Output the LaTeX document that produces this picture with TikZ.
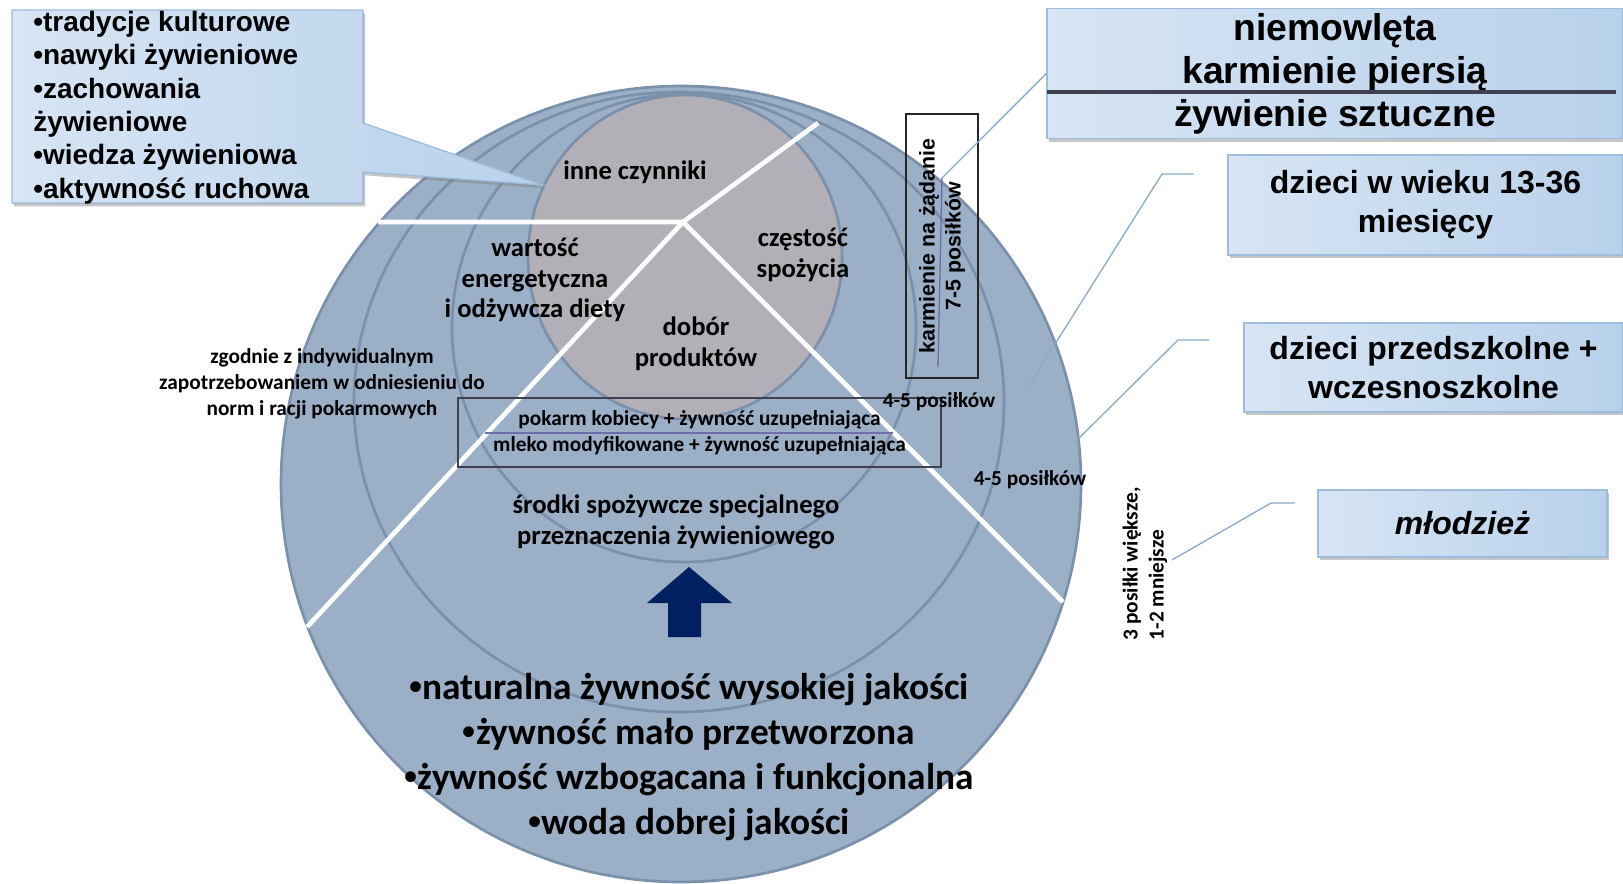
\documentclass[tikz,border=0pt]{standalone}
\usepackage{fontspec}
\setmainfont{Carlito}
\newfontfamily\arialfont{Liberation Sans}
\usetikzlibrary{shadows}

\definecolor{pierscien}{RGB}{155,175,198}
\definecolor{obwod}{RGB}{122,144,171}
\definecolor{szary}{RGB}{178,175,183}
\definecolor{jasny}{RGB}{215,229,244}
\definecolor{ciemny}{RGB}{184,209,235}
\definecolor{ramka}{RGB}{158,188,220}
\definecolor{lacznik}{RGB}{140,170,202}
\definecolor{granat}{RGB}{0,32,96}
\definecolor{fioletowy}{RGB}{110,110,170}
\definecolor{ciemnalinia}{RGB}{64,64,80}

\newcommand{\srodkowy}{\bfseries\fontsize{20}{23}\selectfont}
\newcommand{\maly}{\bfseries\fontsize{16}{19.5}\selectfont}
\newcommand{\wielki}{\bfseries\fontsize{28}{33.75}\selectfont}
\newcommand{\ramkowy}{\arialfont\bfseries\fontsize{24}{29}\selectfont}
\newcommand{\tytulowy}{\arialfont\bfseries\fontsize{28}{32.25}\selectfont}
\newcommand{\listowy}{\arialfont\bfseries\fontsize{21}{25}\selectfont}
\newcommand{\pionowy}{\arialfont\bfseries\fontsize{16}{19.5}\selectfont}
\newcommand{\kropka}{{\arialfont •}}

\tikzset{
	ring/.style={fill=pierscien, draw=obwod, line width=2pt},
	podzial/.style={white, line width=3.5pt},
	infobox/.style={left color=jasny, right color=ciemny, draw=ramka, line width=1pt,
		drop shadow={shadow xshift=1.5pt, shadow yshift=-2.5pt, opacity=0.45}},
	conn/.style={lacznik, line width=1pt},
}

\begin{document}
\begin{tikzpicture}[x=0.75pt, y=-0.75pt]
	\useasboundingbox (0,0) rectangle (1623,883);
	% Okregi
	\draw[ring] (681,484) ellipse [x radius=400, y radius=398];
	\draw[ring] (679,402) ellipse [x radius=325, y radius=310];
	\draw[ring] (684,328) ellipse [x radius=232, y radius=234];
	\draw[ring, fill=szary] (685,257) ellipse [x radius=157, y radius=162];

	% Linie podzialu
	\coordinate (srodek) at (683,222);
	\draw[podzial] (378,222) -- (srodek) -- (818,123);
	\draw[podzial] (307,627) -- (srodek) -- (1063,602);

	% Opisy w kole
	\node[font=\srodkowy] (inne) at (635,172) {inne czynniki};
	\node[font=\srodkowy, align=center] (wartosc) at (535,280) {wartość\\energetyczna\\i odżywcza diety};
	\node[font=\srodkowy, align=center] (czestosc) at (803,255) {częstość\\spożycia};
	\node[font=\srodkowy, align=center] (dobor) at (696,344) {dobór\\produktów};
	\node[font=\maly, align=center] (zgodnie) at (322,384) {zgodnie z indywidualnym\\zapotrzebowaniem w odniesieniu do\\norm i racji pokarmowych};
	\node[draw=ciemnalinia, line width=1pt, minimum width=362.25pt, minimum height=51.75pt,
		font=\maly, align=center] (pokarm) at (699.5,432.5) {pokarm kobiecy + żywność uzupełniająca\\mleko modyfikowane + żywność uzupełniająca};
	\draw[fioletowy, line width=0.8pt] (485,433) -- (893,433);
	\node[font=\maly] (posilki) at (939,402) {4-5 posiłków};
	\node[font=\maly] (posilkidwa) at (1030,480) {4-5 posiłków};
	\node[font=\srodkowy, align=center] (srodki) at (676,522) {środki spożywcze specjalnego\\przeznaczenia żywieniowego};
	\fill[granat] (689,567) -- (732,603) -- (701,603) -- (701,637) -- (668,637) -- (668,603) -- (647,603) -- cycle;
	\node[font=\wielki, align=center] (naturalna) at (689,757) {\kropka naturalna żywność wysokiej jakości\\\kropka żywność mało przetworzona\\\kropka żywność wzbogacana i funkcjonalna\\\kropka woda dobrej jakości};

	% Opisy pionowe
	\node[draw=black!85, line width=1pt, rotate=90, minimum width=198pt, minimum height=54pt,
		font=\pionowy, align=center] (karmienie) at (942,246) {karmienie na żądanie\\7-5 posiłków};
	\node[font=\maly, rotate=90, anchor=west, align=left] (trzy) at (1145,645) {3 posiłki większe,\\1-2 mniejsze};

	% Ramki z prawej
	\node[infobox, font=\tytulowy, align=center, minimum width=432pt, minimum height=89.25pt] (niem) at (1335,73.5) {niemowlęta\\karmienie piersią\\żywienie sztuczne};
	\draw[ciemnalinia, line width=3.5pt] (1047,92) -- (1616,92);
	\node[infobox, font=\ramkowy, align=center, minimum width=296.25pt, minimum height=75pt] (wiek) at (1425.5,205) {dzieci w wieku 13-36\\miesięcy};
	\node[infobox, font=\ramkowy, align=center, minimum width=284.25pt, minimum height=66.75pt] (przedszkolne) at (1433.5,367.5) {dzieci przedszkolne +\\wczesnoszkolne};
	\node[infobox, font=\ramkowy\itshape, minimum width=216.75pt, minimum height=50.25pt] (mlodziez) at (1462.5,523.5) {młodzież};

	% Laczniki
	\coordinate (niemA) at (942,178);
	\coordinate (niemB) at (938,367);
	\draw[conn] (niem.west) -- (niemA);
	\draw[conn, fioletowy] (niemA) -- (niemB);
	\coordinate (wiekA) at (1194,174);
	\coordinate (wiekB) at (1162,174);
	\coordinate (wiekC) at (1028,387);
	\draw[conn] (wiekA) -- (wiekB) -- (wiekC);
	\coordinate (przedA) at (1209,340);
	\coordinate (przedB) at (1178,340);
	\coordinate (przedC) at (1075,442);
	\draw[conn] (przedA) -- (przedB) -- (przedC);
	\coordinate (mlodA) at (1295,503);
	\coordinate (mlodB) at (1271,503);
	\coordinate (mlodC) at (1172,560);
	\draw[conn] (mlodA) -- (mlodB) -- (mlodC);

	% Ramka z lewej
	\filldraw[infobox] (12,10) -- (363,10) -- (363,123) -- (543,185) -- (363,172) -- (363,203) -- (12,203) -- cycle;
	\node[font=\listowy, align=left, anchor=west, inner sep=0pt] (czynniki) at (33,107.5) {•tradycje kulturowe\\•nawyki żywieniowe\\•zachowania\\żywieniowe\\•wiedza żywieniowa\\•aktywność ruchowa};
\end{tikzpicture}
\end{document}
